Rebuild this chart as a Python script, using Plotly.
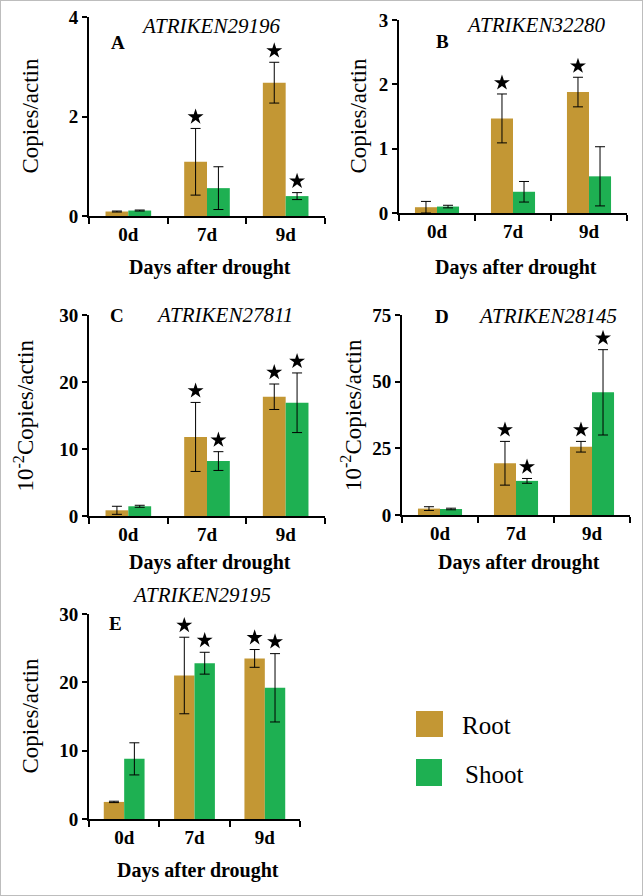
import plotly.graph_objects as go

# valores (média e erro padrão)
dias = ["0d", "7d", "9d"]

a_raiz = [0.09, 1.09, 2.68]
a_raiz_erro = [0.01, 0.67, 0.41]
a_parte_aerea = [0.11, 0.56, 0.40]
a_parte_aerea_erro = [0.01, 0.43, 0.07]
a_raiz_estrela = [False, True, True]
a_parte_aerea_estrela = [False, False, True]

b_raiz = [0.09, 1.47, 1.88]
b_raiz_erro = [0.09, 0.38, 0.23]
b_parte_aerea = [0.10, 0.33, 0.57]
b_parte_aerea_erro = [0.02, 0.16, 0.46]
b_raiz_estrela = [False, True, True]
b_parte_aerea_estrela = [False, False, False]

c_raiz = [0.85, 11.8, 17.8]
c_raiz_erro = [0.6, 5.15, 1.9]
c_parte_aerea = [1.45, 8.2, 16.9]
c_parte_aerea_erro = [0.15, 1.4, 4.45]
c_raiz_estrela = [False, True, True]
c_parte_aerea_estrela = [False, True, True]

d_raiz = [2.4, 19.4, 25.6]
d_raiz_erro = [0.7, 8.2, 2.0]
d_parte_aerea = [2.25, 12.8, 46.0]
d_parte_aerea_erro = [0.3, 0.9, 16.0]
d_raiz_estrela = [False, True, True]
d_parte_aerea_estrela = [False, True, True]

e_raiz = [2.5, 21.0, 23.5]
e_raiz_erro = [0.1, 5.6, 1.3]
e_parte_aerea = [8.8, 22.8, 19.2]
e_parte_aerea_erro = [2.35, 1.6, 5.0]
e_raiz_estrela = [False, True, True]
e_parte_aerea_estrela = [False, True, True]

COR_RAIZ = "#C39734"
COR_AEREA = "#1EB052"
FONTE = "Times New Roman, Liberation Serif, Tinos, serif"
W, H = 643, 896


def fx(p):
    return p / W


def fy(p):
    return 1 - p / H


#paineis: dados + caixa em pixels (esq, dir, topo, base)
paineis = [
    dict(letra="A", gene="ATRIKEN29196", raiz=a_raiz, raiz_erro=a_raiz_erro,
         aerea=a_parte_aerea, aerea_erro=a_parte_aerea_erro,
         raiz_estrela=a_raiz_estrela, aerea_estrela=a_parte_aerea_estrela,
         ymax=4, dtick=2, ytitulo="Copies/actin",
         caixa=(89, 325, 17, 216), titulo_y_x=30, titulo_x_y=268,
         gene_xy=(210, 26), letra_xy=(118, 43)),
    dict(letra="B", gene="ATRIKEN32280", raiz=b_raiz, raiz_erro=b_raiz_erro,
         aerea=b_parte_aerea, aerea_erro=b_parte_aerea_erro,
         raiz_estrela=b_raiz_estrela, aerea_estrela=b_parte_aerea_estrela,
         ymax=3, dtick=1, ytitulo="Copies/actin",
         caixa=(399, 627, 20, 213), titulo_y_x=358, titulo_x_y=268,
         gene_xy=(535, 25), letra_xy=(442, 41)),
    dict(letra="C", gene="ATRIKEN27811", raiz=c_raiz, raiz_erro=c_raiz_erro,
         aerea=c_parte_aerea, aerea_erro=c_parte_aerea_erro,
         raiz_estrela=c_raiz_estrela, aerea_estrela=c_parte_aerea_estrela,
         ymax=30, dtick=10, ytitulo="10<sup>-2</sup>Copies/actin",
         caixa=(89, 325, 315, 516), titulo_y_x=24, titulo_x_y=562,
         gene_xy=(224, 315), letra_xy=(117, 315)),
    dict(letra="D", gene="ATRIKEN28145", raiz=d_raiz, raiz_erro=d_raiz_erro,
         aerea=d_parte_aerea, aerea_erro=d_parte_aerea_erro,
         raiz_estrela=d_raiz_estrela, aerea_estrela=d_parte_aerea_estrela,
         ymax=75, dtick=25, ytitulo="10<sup>-2</sup>Copies/actin",
         caixa=(402, 630, 315, 515), titulo_y_x=352, titulo_x_y=562,
         gene_xy=(547, 316), letra_xy=(442, 316)),
    dict(letra="E", gene="ATRIKEN29195", raiz=e_raiz, raiz_erro=e_raiz_erro,
         aerea=e_parte_aerea, aerea_erro=e_parte_aerea_erro,
         raiz_estrela=e_raiz_estrela, aerea_estrela=e_parte_aerea_estrela,
         ymax=30, dtick=10, ytitulo="Copies/actin",
         caixa=(89, 300, 614, 819), titulo_y_x=30, titulo_x_y=870,
         gene_xy=(201, 595), letra_xy=(115, 623)),
]

LARGURA = 0.29
posicoes = list(range(len(dias)))

fig = go.Figure()
anotacoes = []


def texto(t, x, y, tamanho, **fonte):
    return dict(text=t, x=fx(x), y=fy(y), xref="paper", yref="paper",
                xanchor="center", yanchor="middle", showarrow=False,
                font=dict(family=FONTE, size=tamanho, color="black", **fonte))


for i, p in enumerate(paineis):
    n = "" if i == 0 else str(i + 1)
    xa, ya = "x" + n, "y" + n

    fig.add_trace(go.Bar(
        x=posicoes, y=p["raiz"], offset=-LARGURA, width=LARGURA,
        marker=dict(color=COR_RAIZ, line=dict(width=0)),
        error_y=dict(type="data", array=p["raiz_erro"], color="black",
                     thickness=1, width=5),
        xaxis=xa, yaxis=ya, showlegend=False,
    ))
    fig.add_trace(go.Bar(
        x=posicoes, y=p["aerea"], offset=0, width=LARGURA,
        marker=dict(color=COR_AEREA, line=dict(width=0)),
        error_y=dict(type="data", array=p["aerea_erro"], color="black",
                     thickness=1, width=5),
        xaxis=xa, yaxis=ya, showlegend=False,
    ))

    # estrelas de significancia acima das barras de erro
    folga = 0.058 * p["ymax"]
    ex, ey = [], []
    for k in posicoes:
        if p["raiz_estrela"][k]:
            ex.append(k - LARGURA / 2)
            ey.append(p["raiz"][k] + p["raiz_erro"][k] + folga)
        if p["aerea_estrela"][k]:
            ex.append(k + LARGURA / 2)
            ey.append(p["aerea"][k] + p["aerea_erro"][k] + folga)
    fig.add_trace(go.Scatter(
        x=ex, y=ey, mode="markers",
        marker=dict(symbol="star", size=12, color="black"),
        xaxis=xa, yaxis=ya, showlegend=False,
    ))

    esq, dir_, topo, base = p["caixa"]
    fig.layout["xaxis" + n] = dict(
        domain=[fx(esq), fx(dir_)], anchor=ya, range=[-0.5, 2.5],
        tickvals=posicoes, ticktext=dias, ticks="", automargin=False,
        minor=dict(tickvals=[-0.5, 0.5, 1.5, 2.5], ticks="outside",
                   ticklen=6, tickwidth=2, tickcolor="black", showgrid=False),
        showline=True, linecolor="black", linewidth=2,
        showgrid=False, zeroline=False, fixedrange=True,
        tickfont=dict(family=FONTE, size=19, color="black", weight="bold"),
    )
    fig.layout["yaxis" + n] = dict(
        domain=[fy(base), fy(topo)], anchor=xa, range=[0, p["ymax"]],
        tick0=0, dtick=p["dtick"], ticks="outside", ticklen=5,
        tickwidth=2, tickcolor="black", automargin=False,
        showline=True, linecolor="black", linewidth=2,
        showgrid=False, zeroline=False,
        tickfont=dict(family=FONTE, size=19, color="black", weight="bold"),
    )

    anotacoes.append(dict(texto(p["ytitulo"], p["titulo_y_x"],
                                (topo + base) / 2, 23), textangle=-90))
    anotacoes.append(texto("Days after drought", (esq + dir_) / 2 + 3,
                           p["titulo_x_y"], 20, weight="bold"))
    anotacoes.append(texto(p["gene"], *p["gene_xy"], 21, style="italic"))
    anotacoes.append(texto(p["letra"], *p["letra_xy"], 19, weight="bold"))

#legenda desenhada à mão
formas = [
    dict(type="rect", xref="paper", yref="paper", x0=0, x1=1, y0=0, y1=1,
         line=dict(color="#BDBDBD", width=2)),
    dict(type="rect", xref="paper", yref="paper", x0=fx(416), x1=fx(443),
         y0=fy(737), y1=fy(711), fillcolor=COR_RAIZ, line=dict(width=0)),
    dict(type="rect", xref="paper", yref="paper", x0=fx(416), x1=fx(442),
         y0=fy(786), y1=fy(759), fillcolor=COR_AEREA, line=dict(width=0)),
]
anotacoes.append(dict(texto("Root", 460, 725, 25), xanchor="left"))
anotacoes.append(dict(texto("Shoot", 463, 774, 25), xanchor="left"))

fig.update_layout(
    width=W, height=H,
    margin=dict(l=0, r=0, t=0, b=0),
    paper_bgcolor="white", plot_bgcolor="white",
    barmode="overlay",
    annotations=anotacoes,
    shapes=formas,
    showlegend=False,
)

fig.write_html("out.html", config={"displayModeBar": False},
               post_script="document.body.style.margin = '0';")
